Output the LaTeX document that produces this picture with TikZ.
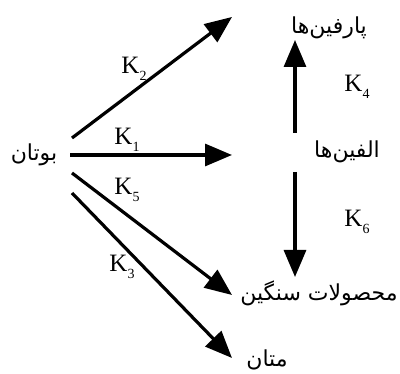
\documentclass[tikz,border=0pt]{standalone}
\usepackage{fontspec}
\setmainfont{Liberation Serif}
\newfontfamily\arabicfont[Script=Arabic]{DejaVu Sans}
\TeXXeTstate=1
\usetikzlibrary{arrows.meta}
\newcommand{\Kk}[1]{K\raisebox{-0.3em}{\fontsize{14}{14}\selectfont #1}}
\tikzset{
  rxn/.style={line width=3.2pt, -{Triangle[length=27pt,width=22pt]}},
  fa/.style={font=\arabicfont\fontsize{22}{24}\selectfont, inner sep=0pt},
  klab/.style={font=\fontsize{25}{27}\selectfont, inner sep=0pt}
}
\begin{document}
\begin{tikzpicture}[x=1pt,y=1pt]
\useasboundingbox (0,0) rectangle (400,-374);
% species
\node[fa] (butane) at (34,-155) {\beginR بوتان\endR};
\node[fa] (paraffin) at (329,-28) {\beginR پارفین‌ها\endR};
\node[fa] (olefin) at (347,-152) {\beginR الفین‌ها\endR};
\node[fa] (heavy) at (319,-293) {\beginR محصولات سنگین\endR};
\node[fa] (methane) at (267,-360) {\beginR متان\endR};
% arrow end points
\coordinate (s2) at (72,-138);  \coordinate (e2) at (232,-17);
\coordinate (s1) at (70,-155);  \coordinate (e1) at (232,-155);
\coordinate (s5) at (72,-173);  \coordinate (e5) at (232,-295);
\coordinate (s3) at (72,-193);  \coordinate (e3) at (232,-358);
\coordinate (s4) at (295,-133); \coordinate (e4) at (295,-40);
\coordinate (s6) at (295,-172); \coordinate (e6) at (295,-277);
\draw[rxn] (s2) -- (e2);
\draw[rxn] (s1) -- (e1);
\draw[rxn] (s5) -- (e5);
\draw[rxn] (s3) -- (e3);
\draw[rxn] (s4) -- (e4);
\draw[rxn] (s6) -- (e6);
% rate constants
\node[klab] (k2) at (134,-69) {\Kk{2}};
\node[klab] (k1) at (127,-140) {\Kk{1}};
\node[klab] (k5) at (127,-190) {\Kk{5}};
\node[klab] (k3) at (122,-267) {\Kk{3}};
\node[klab] (k4) at (357,-87) {\Kk{4}};
\node[klab] (k6) at (357,-222) {\Kk{6}};
\end{tikzpicture}
\end{document}
